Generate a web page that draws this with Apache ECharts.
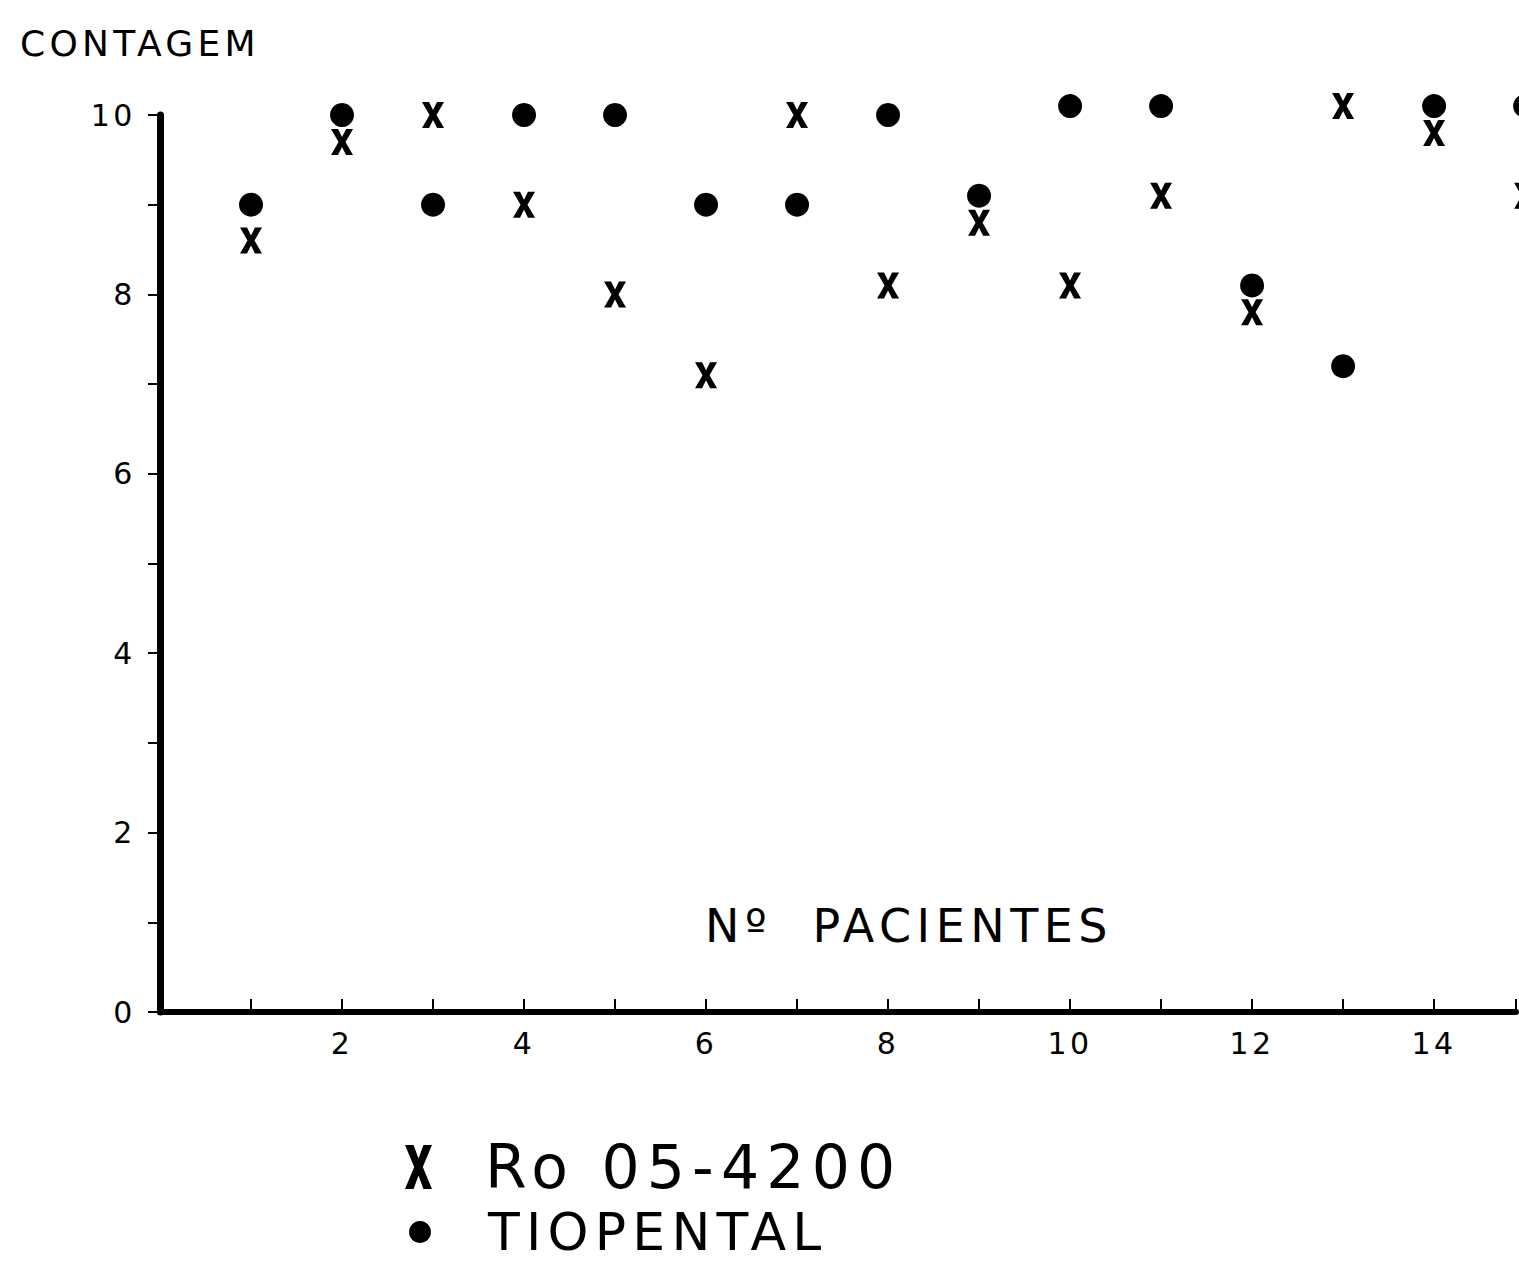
<!DOCTYPE html>
<html>
<head>
<meta charset="utf-8">
<title>Contagem por paciente</title>
<script src="https://cdn.jsdelivr.net/npm/echarts@6/dist/echarts.min.js"></script>
<style>
  html, body { margin: 0; padding: 0; background: #fff; }
  #main { width: 1519px; height: 1264px; }
  /* the plotter lettering is widely spaced */
  #main text { letter-spacing: 0.12em; }
</style>
</head>
<body>
<div id="main"></div>
<script>
  const patients = [1, 2, 3, 4, 5, 6, 7, 8, 9, 10, 11, 12, 13, 14, 15];
  const roValues = [8.6, 9.7, 10.0, 9.0, 8.0, 7.1, 10.0, 8.1, 8.8, 8.1, 9.1, 7.8, 10.1, 9.8, 9.1];
  const tiopentalValues = [9.0, 10.0, 9.0, 10.0, 10.0, 9.0, 9.0, 10.0, 9.1, 10.1, 10.1, 8.1, 7.2, 10.1, 10.1];
  const xTickLabels = [2, 4, 6, 8, 10, 12, 14];
  const yTickLabels = [0, 2, 4, 6, 8, 10];

  // bold plotter-style cross
  const crossIcon = 'path://M0,0 L7,0 L11,8 L15,0 L22,0 L14.5,13 L22,26 L15,26 L11,18 L7,26 L0,26 L7.5,13 Z';
  const font = 'DejaVu Sans';

  const chart = echarts.init(document.getElementById('main'), null, { renderer: 'svg' });

  const option = {
    backgroundColor: '#fff',
    animation: false,
    grid: { left: 160, right: 0, top: 115, bottom: 252 },
    xAxis: {
      type: 'value',
      min: 0,
      max: 14.9,
      interval: 1,
      splitLine: { show: false },
      axisLine: { lineStyle: { color: '#000', width: 6 } },
      axisTick: { inside: true, length: 13, lineStyle: { color: '#000', width: 2 } },
      axisLabel: {
        margin: 16,
        color: '#000',
        fontFamily: font,
        fontSize: 30,
        formatter: v => xTickLabels.includes(v) ? String(v) : ''
      }
    },
    yAxis: {
      type: 'value',
      min: 0,
      max: 10,
      interval: 1,
      splitLine: { show: false },
      axisLine: { lineStyle: { color: '#000', width: 7 } },
      axisTick: { length: 12, lineStyle: { color: '#000', width: 2 } },
      axisLabel: {
        margin: 24,
        color: '#000',
        fontFamily: font,
        fontSize: 30,
        formatter: v => yTickLabels.includes(v) ? String(v) : ''
      }
    },
    legend: [
      {
        data: ['Ro 05-4200'],
        left: 405,
        top: 1137,
        padding: 0,
        selectedMode: false,
        icon: crossIcon,
        itemWidth: 27,
        itemHeight: 44,
        symbolKeepAspect: false,
        textStyle: { color: '#000', fontFamily: font, fontSize: 60, padding: [0, 0, 0, 48] }
      },
      {
        data: ['TIOPENTAL'],
        left: 409,
        top: 1206,
        padding: 0,
        selectedMode: false,
        icon: 'circle',
        itemWidth: 22,
        itemHeight: 22,
        textStyle: { color: '#000', fontFamily: font, fontSize: 52, padding: [0, 0, 0, 52] }
      }
    ],
    graphic: [
      {
        type: 'text',
        x: 20,
        y: 43,
        style: { text: 'CONTAGEM', fill: '#000', font: '36px "DejaVu Sans"', verticalAlign: 'middle' }
      },
      {
        type: 'text',
        x: 705,
        y: 926,
        style: { text: 'Nº  PACIENTES', fill: '#000', font: '46px "DejaVu Sans"', verticalAlign: 'middle' }
      }
    ],
    series: [
      {
        name: 'Ro 05-4200',
        type: 'scatter',
        clip: false,
        symbol: crossIcon,
        symbolSize: [22, 26],
        itemStyle: { color: '#000', opacity: 1 },
        data: patients.map((p, i) => [p, roValues[i]])
      },
      {
        name: 'TIOPENTAL',
        type: 'scatter',
        clip: false,
        symbol: 'circle',
        symbolSize: 24,
        itemStyle: { color: '#000', opacity: 1 },
        data: patients.map((p, i) => [p, tiopentalValues[i]])
      }
    ]
  };

  chart.setOption(option);
</script>
</body>
</html>
